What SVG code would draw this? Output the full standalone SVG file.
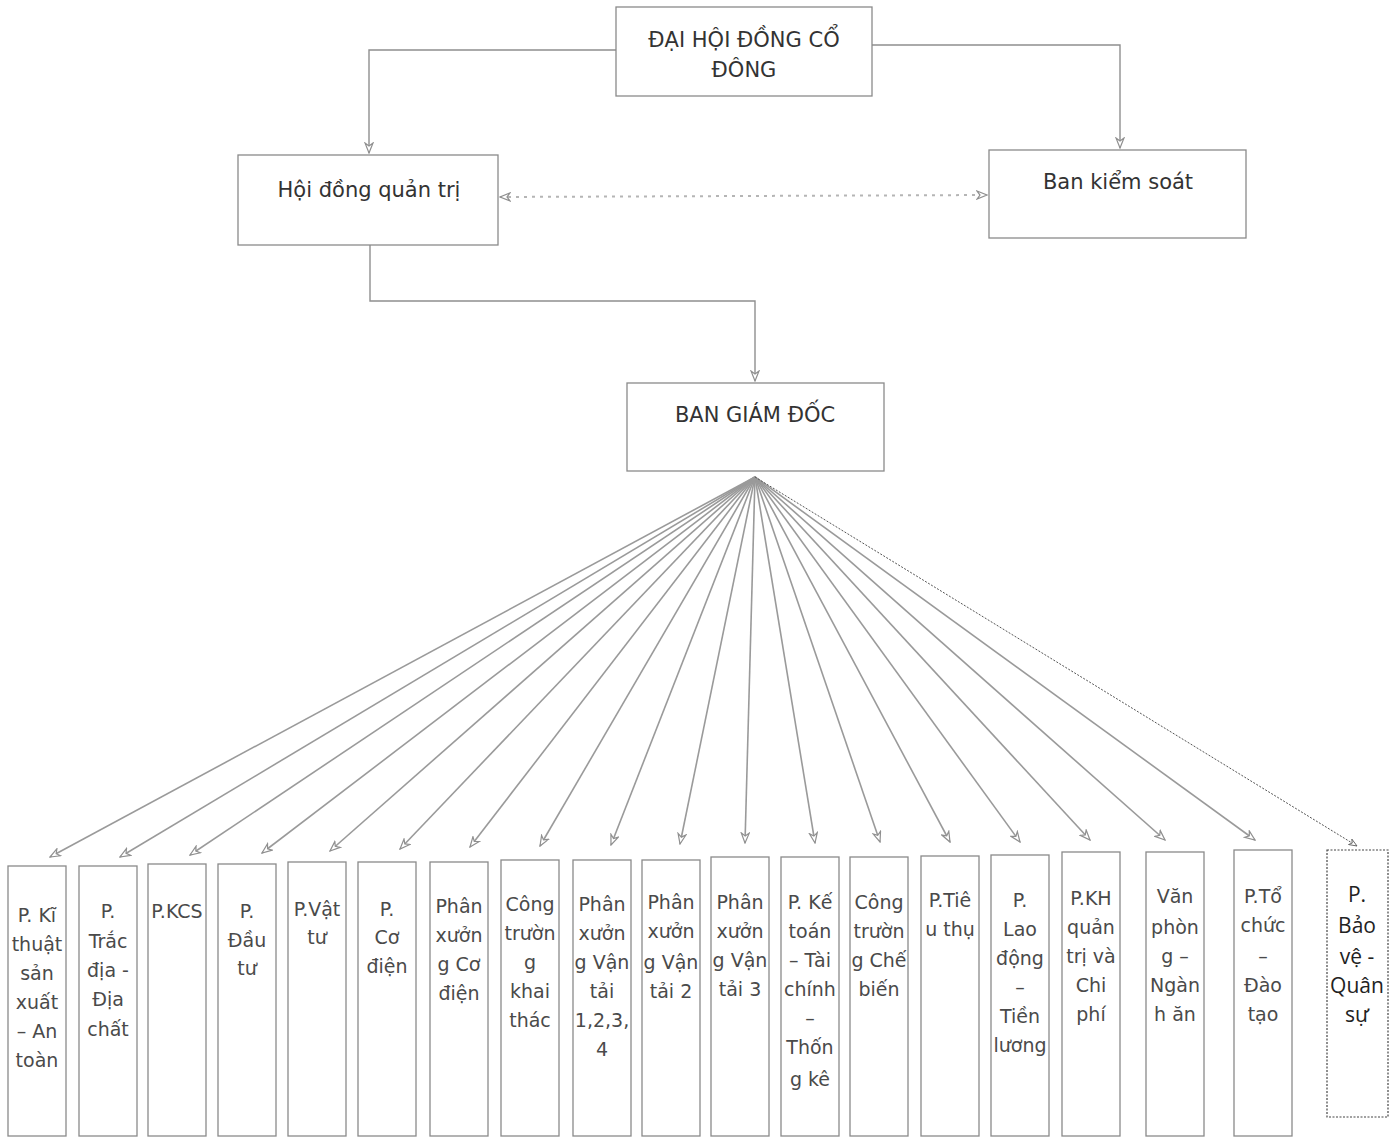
<svg xmlns="http://www.w3.org/2000/svg" width="1397" height="1138" viewBox="0 0 1397 1138">
<defs>
<style>
.box{fill:#fff;stroke:#8a8a8a;stroke-width:1.3}
.box2{fill:#fff;stroke:#444;stroke-width:1.2;stroke-dasharray:2,1.5}
.t{font-family:"DejaVu Sans",Verdana,sans-serif;font-size:19px;fill:#4a4a4a;text-anchor:middle}
.tb{font-family:"DejaVu Sans",Verdana,sans-serif;font-size:21px;fill:#333;text-anchor:middle}
.tq{font-family:"Open Sans","Liberation Sans",sans-serif;font-size:21px;fill:#222;text-anchor:middle}
.c{fill:none;stroke:#8f8f8f;stroke-width:1.4}
.f{fill:none;stroke:#9a9a9a;stroke-width:1.6}
.d{fill:none;stroke:#b5b5b5;stroke-width:2;stroke-dasharray:3,5}
.fd{fill:none;stroke:#555;stroke-width:1;stroke-dasharray:2,1.5}
</style>
<marker id="ah" viewBox="0 0 12 10" refX="11" refY="5" markerWidth="12" markerHeight="10" markerUnits="userSpaceOnUse" orient="auto-start-reverse">
<path d="M1,1 L11,5 L1,9 L4,5 Z" fill="#fff" stroke="#8f8f8f" stroke-width="1.2"/>
</marker>
<marker id="ah2" viewBox="0 0 12 10" refX="11" refY="5" markerWidth="10" markerHeight="8" markerUnits="userSpaceOnUse" orient="auto">
<path d="M1,1 L11,5 L1,9 L4,5 Z" fill="#fff" stroke="#555" stroke-width="1"/>
</marker>
</defs>
<rect width="1397" height="1138" fill="#fff"/>

<g id="connectors">
<path class="c" d="M616,50 H369 V153" marker-end="url(#ah)"/>
<path class="c" d="M872,45 H1120 V148" marker-end="url(#ah)"/>
<path class="c" d="M370,245 V301 H755 V381" marker-end="url(#ah)"/>
<path class="d" d="M500,197 L987,195" marker-start="url(#ah)" marker-end="url(#ah)"/>
<g class="f" marker-end="url(#ah)">
<path d="M755,477 L50,857"/>
<path d="M755,477 L120,857"/>
<path d="M755,477 L190,855"/>
<path d="M755,477 L262,853"/>
<path d="M755,477 L330,851"/>
<path d="M755,477 L400,849"/>
<path d="M755,477 L470,847"/>
<path d="M755,477 L540,846"/>
<path d="M755,477 L611,845"/>
<path d="M755,477 L680,844"/>
<path d="M755,477 L745,843"/>
<path d="M755,477 L815,843"/>
<path d="M755,477 L880,842"/>
<path d="M755,477 L950,842"/>
<path d="M755,477 L1020,842"/>
<path d="M755,477 L1090,840"/>
<path d="M755,477 L1165,840"/>
<path d="M755,477 L1255,840"/>
</g>
<path class="fd" d="M755,477 L1357,846" marker-end="url(#ah2)"/>
</g>

<g id="dhdcd">
<rect class="box" x="616" y="7" width="256" height="89"/>
<text class="tb" x="744" y="47">ĐẠI HỘI ĐỒNG CỔ</text>
<text class="tb" x="744" y="77">ĐÔNG</text>
</g>
<g id="hdqt">
<rect class="box" x="238" y="155" width="260" height="90"/>
<text class="tb" x="369" y="197">Hội đồng quản trị</text>
</g>
<g id="bks">
<rect class="box" x="989" y="150" width="257" height="88"/>
<text class="tb" x="1118" y="189">Ban kiểm soát</text>
</g>
<g id="bgd">
<rect class="box" x="627" y="383" width="257" height="88"/>
<text class="tb" x="755" y="422">BAN GIÁM ĐỐC</text>
</g>

<g id="n1"><rect class="box" x="8" y="866" width="58" height="270"/>
<text class="t" x="37" y="922">P. Kĩ</text><text class="t" x="37" y="951">thuật</text><text class="t" x="37" y="980">sản</text><text class="t" x="37" y="1009">xuất</text><text class="t" x="37" y="1038">– An</text><text class="t" x="37" y="1067">toàn</text></g>
<g id="n2"><rect class="box" x="79" y="866" width="58" height="270"/>
<text class="t" x="108" y="918">P.</text><text class="t" x="108" y="948">Trắc</text><text class="t" x="108" y="977">địa -</text><text class="t" x="108" y="1006">Địa</text><text class="t" x="108" y="1036">chất</text></g>
<g id="n3"><rect class="box" x="148" y="864" width="58" height="272"/>
<text class="t" x="177" y="918">P.KCS</text></g>
<g id="n4"><rect class="box" x="218" y="864" width="58" height="272"/>
<text class="t" x="247" y="918">P.</text><text class="t" x="247" y="947">Đầu</text><text class="t" x="247" y="975">tư</text></g>
<g id="n5"><rect class="box" x="288" y="862" width="58" height="274"/>
<text class="t" x="317" y="916">P.Vật</text><text class="t" x="317" y="944">tư</text></g>
<g id="n6"><rect class="box" x="358" y="862" width="58" height="274"/>
<text class="t" x="387" y="916">P.</text><text class="t" x="387" y="944">Cơ</text><text class="t" x="387" y="973">điện</text></g>
<g id="n7"><rect class="box" x="430" y="862" width="58" height="274"/>
<text class="t" x="459" y="913">Phân</text><text class="t" x="459" y="942">xưởn</text><text class="t" x="459" y="971">g Cơ</text><text class="t" x="459" y="1000">điện</text></g>
<g id="n8"><rect class="box" x="501" y="860" width="58" height="276"/>
<text class="t" x="530" y="911">Công</text><text class="t" x="530" y="940">trườn</text><text class="t" x="530" y="969">g</text><text class="t" x="530" y="998">khai</text><text class="t" x="530" y="1027">thác</text></g>
<g id="n9"><rect class="box" x="573" y="860" width="58" height="276"/>
<text class="t" x="602" y="911">Phân</text><text class="t" x="602" y="940">xưởn</text><text class="t" x="602" y="969">g Vận</text><text class="t" x="602" y="998">tải</text><text class="t" x="602" y="1027">1,2,3,</text><text class="t" x="602" y="1056">4</text></g>
<g id="n10"><rect class="box" x="642" y="860" width="58" height="276"/>
<text class="t" x="671" y="909">Phân</text><text class="t" x="671" y="938">xưởn</text><text class="t" x="671" y="969">g Vận</text><text class="t" x="671" y="998">tải 2</text></g>
<g id="n11"><rect class="box" x="711" y="857" width="58" height="279"/>
<text class="t" x="740" y="909">Phân</text><text class="t" x="740" y="938">xưởn</text><text class="t" x="740" y="967">g Vận</text><text class="t" x="740" y="996">tải 3</text></g>
<g id="n12"><rect class="box" x="781" y="857" width="58" height="279"/>
<text class="t" x="810" y="909">P. Kế</text><text class="t" x="810" y="938">toán</text><text class="t" x="810" y="967">– Tài</text><text class="t" x="810" y="996">chính</text><text class="t" x="810" y="1025">–</text><text class="t" x="810" y="1054">Thốn</text><text class="t" x="810" y="1086">g kê</text></g>
<g id="n13"><rect class="box" x="850" y="857" width="58" height="279"/>
<text class="t" x="879" y="909">Công</text><text class="t" x="879" y="938">trườn</text><text class="t" x="879" y="967">g Chế</text><text class="t" x="879" y="996">biến</text></g>
<g id="n14"><rect class="box" x="921" y="856" width="58" height="280"/>
<text class="t" x="950" y="907">P.Tiê</text><text class="t" x="950" y="936">u thụ</text></g>
<g id="n15"><rect class="box" x="991" y="855" width="58" height="281"/>
<text class="t" x="1020" y="907">P.</text><text class="t" x="1020" y="936">Lao</text><text class="t" x="1020" y="965">động</text><text class="t" x="1020" y="994">–</text><text class="t" x="1020" y="1023">Tiền</text><text class="t" x="1020" y="1052">lương</text></g>
<g id="n16"><rect class="box" x="1062" y="852" width="58" height="284"/>
<text class="t" x="1091" y="905">P.KH</text><text class="t" x="1091" y="934">quản</text><text class="t" x="1091" y="963">trị và</text><text class="t" x="1091" y="992">Chi</text><text class="t" x="1091" y="1021">phí</text></g>
<g id="n17"><rect class="box" x="1146" y="852" width="58" height="284"/>
<text class="t" x="1175" y="903">Văn</text><text class="t" x="1175" y="934">phòn</text><text class="t" x="1175" y="963">g –</text><text class="t" x="1175" y="992">Ngàn</text><text class="t" x="1175" y="1021">h ăn</text></g>
<g id="n18"><rect class="box" x="1234" y="850" width="58" height="286"/>
<text class="t" x="1263" y="903">P.Tổ</text><text class="t" x="1263" y="932">chức</text><text class="t" x="1263" y="963">–</text><text class="t" x="1263" y="992">Đào</text><text class="t" x="1263" y="1021">tạo</text></g>
<g id="n19"><rect class="box2" x="1327" y="850" width="61" height="267"/>
<text class="tq" x="1357" y="902">P.</text><text class="tq" x="1357" y="933">Bảo</text><text class="tq" x="1357" y="964">vệ -</text><text class="tq" x="1357" y="993">Quân</text><text class="tq" x="1357" y="1022">sự</text></g>
</svg>
